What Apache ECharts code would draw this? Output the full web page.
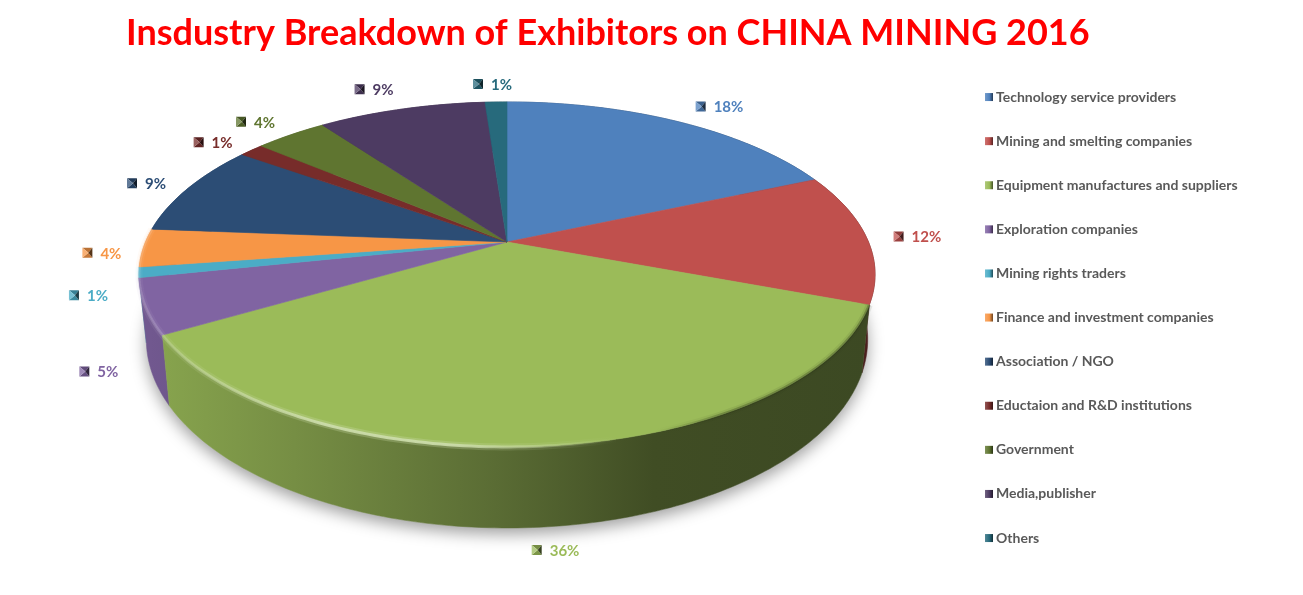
<!DOCTYPE html>
<html><head><meta charset="utf-8">
<style>html,body{margin:0;padding:0;background:#fff}#c{width:1303px;height:595px}</style>
<script src="https://cdn.jsdelivr.net/npm/echarts@6/dist/echarts.min.js"></script>
</head><body><div id="c"></div>
<script>
const titleText = 'Insdustry Breakdown of Exhibitors on CHINA MINING 2016';
const categories = ['Technology service providers','Mining and smelting companies','Equipment manufactures and suppliers','Exploration companies','Mining rights traders','Finance and investment companies','Association / NGO','Eductaion and R&D institutions','Government','Media,publisher','Others'];
const shares = [18.4,12.35,35.8,5.15,0.97,3.58,8.65,1.3,3.8,8.85,1.15];
const colors = ['#4f81bd','#c0504d','#9bbb59','#8064a2','#4bacc6','#f79646','#2c4d75','#772c2a','#5f7530','#4d3b62','#276a7c'];
const labelNudge = [[44,-14],[53,0],[13,105],[-40,66],[-44,24],[-35,6],[-35,-4],[-32,-7],[-29,-12],[-21,-19],[3,-17]];

const total = shares.reduce((a,b)=>a+b,0);
const starts = []; shares.reduce((acc,v,i)=>{starts[i]=acc;return acc+v;},0);
const CX=507, CY=242, R=361.5, K=166.4, P=0.188, THICK=62, GROW=0.093, SHRINK=0.98;
const rad = pct => pct/total*2*Math.PI;
function topPt(a){const s=Math.sin(a),c=-Math.cos(a),w=1-P*c;return [CX+R*s/w,CY+K*c/w];}
function botPt(a){const p=topPt(a);return [CX+(p[0]-CX)*SHRINK,p[1]+THICK+GROW*(p[1]-CY)];}
function arc(fn,a0,a1){const n=Math.max(2,Math.ceil((a1-a0)/(Math.PI/180)));const o=[];for(let i=0;i<=n;i++)o.push(fn(a0+(a1-a0)*i/n));return o;}
function shade(hex,f){const n=parseInt(hex.slice(1),16);const ch=s=>Math.min(255,Math.round(((n>>s)&255)*f));return `rgb(${ch(16)},${ch(8)},${ch(0)})`;}
function tint(hex,f,a){const n=parseInt(hex.slice(1),16);const ch=s=>{const v=(n>>s)&255;return Math.round(v+(255-v)*f);};return `rgba(${ch(16)},${ch(8)},${ch(0)},${a===undefined?1:a})`;}
const G=echarts.graphic.LinearGradient;
function wallFill(col){
  return new G(150,0,870,0,[
    {offset:0,color:shade(col,.88)},{offset:.2,color:shade(col,.76)},{offset:.48,color:shade(col,.58)},
    {offset:.7,color:shade(col,.41)},{offset:1,color:shade(col,.39)}],true);
}
function legendFill(col){return new G(0,0,1,0,[{offset:0,color:tint(col,.2)},{offset:.55,color:col},{offset:1,color:shade(col,.45)}]);}
function rimStroke(col,k){
  const h=a=>tint(col,.5,a*k);
  return new G(150,0,870,0,[
    {offset:0,color:h(.3)},{offset:.24,color:h(.9)},{offset:.42,color:h(.9)},{offset:.57,color:h(.3)},{offset:.65,color:h(0)},
    {offset:.7,color:'rgba(40,50,20,0)'},{offset:.8,color:`rgba(40,50,20,${.3*k})`},{offset:1,color:`rgba(40,50,20,${.3*k})`}],true);
}

function renderSlice(params,api){
  const i=params.seriesIndex, v=api.value(0), col=colors[i];
  const a0=rad(starts[i]), a1=a0+rad(v), mid=(a0+a1)/2;
  const kids=[];
  if(i===0){
    kids.push({type:'polygon',shape:{points:arc(botPt,0,2*Math.PI)},z2:0,silent:true,
      style:{fill:'#cfcfcf',shadowBlur:16,shadowColor:'rgba(0,0,0,.38)',shadowOffsetY:6,shadowOffsetX:0}});
  }
  const t=arc(topPt,a0,a1), b=arc(botPt,a0,a1);
  kids.push({type:'polygon',shape:{points:t.concat(b.slice().reverse())},z2:2+3*(1-Math.cos(mid)),silent:true,
    style:{fill:wallFill(col),stroke:wallFill(col),lineWidth:.5}});
  kids.push({type:'polygon',shape:{points:[[CX,CY]].concat(t)},z2:10,silent:true,
    style:{fill:col,stroke:col,lineWidth:.6}});
  // soft rim: lit on the left of the front, dark on the right
  if(mid>Math.PI/2&&mid<1.5*Math.PI){
    kids.push({type:'polyline',shape:{points:t.slice()},z2:11,silent:true,style:{fill:null,lineWidth:7,stroke:rimStroke(col,.3)}});
    kids.push({type:'polyline',shape:{points:t.slice()},z2:12,silent:true,style:{fill:null,lineWidth:3,stroke:rimStroke(col,1)}});
  }
  // data label: bevelled key + percentage
  const rim=topPt(mid), lx=rim[0]+labelNudge[i][0], ly=rim[1]+labelNudge[i][1];
  const mx=lx-21, s=5;
  const c=[mx+1,ly-1], tl=[mx-s,ly-1-s], tr=[mx+s,ly-1-s], br=[mx+s,ly-1+s], bl=[mx-s,ly-1+s];
  [[tl,tr,shade(col,.75)],[bl,br,shade(col,.8)],[tl,bl,tint(col,.25)],[tr,br,shade(col,.35)]].forEach(q=>{
    kids.push({type:'polygon',shape:{points:[q[0],q[1],c]},z2:20,silent:true,style:{fill:q[2]}});
  });
  kids.push({type:'text',z2:21,silent:true,style:{x:lx-8,y:ly,text:Math.round(v)+'%',fill:col,font:'bold 15px Lato',textAlign:'left',textVerticalAlign:'middle'}});
  return {type:'group',children:kids};
}

const chart=echarts.init(document.getElementById('c'),null,{renderer:'canvas'});
chart.setOption({
  animation:false,
  backgroundColor:'#fff',
  title:{text:titleText,left:121,top:10,textStyle:{color:'#ff0000',fontFamily:'Lato',fontWeight:'bold',fontSize:36}},
  legend:{orient:'vertical',left:980,top:84,itemWidth:8,itemHeight:8,itemGap:28,icon:'rect',selectedMode:false,
    data:categories,textStyle:{color:'#595959',fontFamily:'Lato',fontWeight:'bold',fontSize:14,lineHeight:16.1,padding:[0,0,0,-2]}},
  series:categories.map((name,i)=>({
    type:'custom',name,coordinateSystem:'none',renderItem:renderSlice,clip:false,silent:true,
    itemStyle:{color:legendFill(colors[i])},data:[[shares[i]]]
  }))
});
</script></body></html>
